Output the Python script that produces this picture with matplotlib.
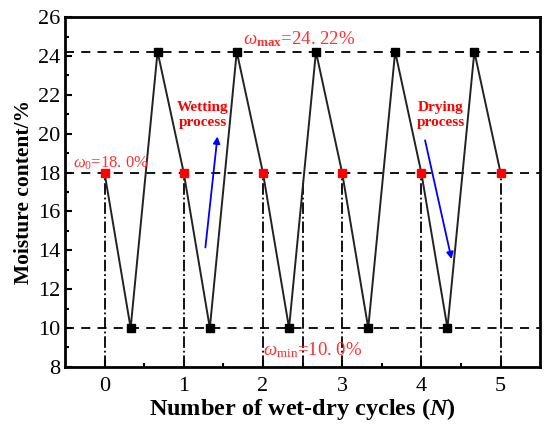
import numpy as np
import matplotlib.pyplot as plt

plt.rcParams['font.family'] = ['Liberation Serif', 'DejaVu Serif']
plt.rcParams['mathtext.fontset'] = 'custom'
plt.rcParams['mathtext.rm'] = 'Liberation Serif'
plt.rcParams['mathtext.it'] = 'Liberation Serif:italic'
plt.rcParams['mathtext.bf'] = 'Liberation Serif:bold'
plt.rcParams['mathtext.bfit'] = 'Liberation Serif:italic:bold'

# moisture content over wet-dry cycles
w0, wmax, wmin = 18.0, 24.22, 10.0
x_path = [0, 0.33, 0.67, 1, 1.33, 1.67, 2, 2.33, 2.67, 3, 3.33, 3.67, 4, 4.33, 4.67, 5]
y_path = [18, 10, 24.22, 18, 10, 24.22, 18, 10, 24.22, 18, 10, 24.22, 18, 10, 24.22, 18]
x_start = [0, 1, 2, 3, 4, 5]
y_start = [18, 18, 18, 18, 18, 18]
x_min = [0.33, 1.33, 2.33, 3.33, 4.33]
y_min = [10, 10, 10, 10, 10]
x_max = [0.67, 1.67, 2.67, 3.67, 4.67]
y_max = [24.22, 24.22, 24.22, 24.22, 24.22]

fig = plt.figure(figsize=(5.5, 4.29), dpi=100)
ax = fig.add_axes([0.118, 0.145, 0.864, 0.815])

# reference lines
for yv in (wmax, w0, wmin):
    ax.axhline(yv, color='black', ls=(0, (5, 4)), lw=1.3, zorder=1)
for xv in x_start:
    ax.plot([xv, xv], [8, w0], color='black', ls='-.', lw=1.3, zorder=1)
ax.plot([2.5, 2.5], [8, 17.6], color='black', ls='-.', lw=1.3, zorder=1)

ax.plot(x_path, y_path, color='#222222', lw=1.4, zorder=2)
ax.plot(x_min, y_min, 's', color='black', ms=5.5, zorder=3)
ax.plot(x_max, y_max, 's', color='black', ms=5.5, zorder=3)
ax.plot(x_start, y_start, 's', color='#ff0000', ms=5.5, zorder=3)

red = '#ff3030'
ax.text(-0.4, 18.5, r'$\omega_0$=18. 0%', color=red, fontsize=12, va='center', ha='left')
ax.text(1.75, 24.85, r'$\omega_{\mathbf{max}}$=24. 22%', color=red, fontsize=13.5, va='center', ha='left')
ax.text(2.0, 8.85, r'$\omega_{\mathrm{min}}$=10. 0%', color=red, fontsize=13.5, va='center', ha='left')

ax.text(1.24, 20.95, 'Wetting\nprocess', color='#ff0000', fontsize=11, fontweight='bold',
        ha='center', va='center', linespacing=1.2)
ax.text(4.25, 20.95, 'Drying\nprocess', color='#ff0000', fontsize=11, fontweight='bold',
        ha='center', va='center', linespacing=1.2)

ax.annotate('', xy=(1.43, 20.0), xytext=(1.27, 14.0),
            arrowprops=dict(arrowstyle='-|>', color='blue', lw=1.3, mutation_scale=10))
ax.annotate('', xy=(4.39, 13.4), xytext=(4.04, 19.8),
            arrowprops=dict(arrowstyle='-|>', color='blue', lw=1.3, mutation_scale=10))

ax.set_xlim(-0.5, 5.5)
ax.set_ylim(8, 26)
ax.set_xticks(x_start)
ax.set_xticks(np.arange(0.5, 5.0, 1.0), minor=True)
ax.set_yticks(np.arange(8, 27, 2))
ax.set_yticks(np.arange(9, 26, 2), minor=True)
ax.tick_params(direction='in', labelsize=16, width=1.5, length=5)
ax.tick_params(which='minor', direction='in', width=1.5, length=3)
ax.tick_params(axis='x', pad=7)
for s in ax.spines.values():
    s.set_linewidth(2)

ax.set_xlabel(r'Number of wet-dry cycles ($\mathbfit{N}$)', fontsize=17.5, fontweight='bold', labelpad=0)
ax.set_ylabel('Moisture content/%', fontsize=15.5, fontweight='bold', labelpad=3)

fig.savefig('out.png', dpi=100)
